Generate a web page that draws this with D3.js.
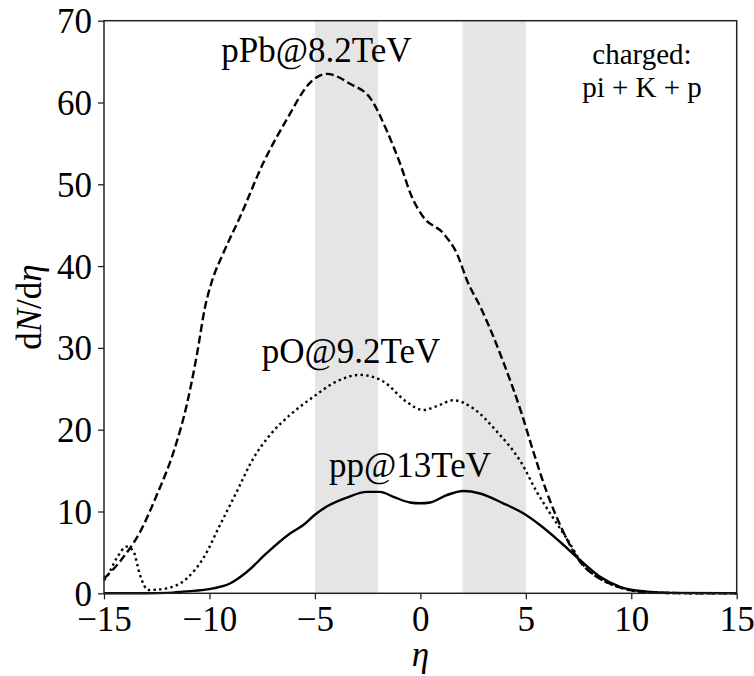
<!DOCTYPE html>
<html>
<head>
<meta charset="utf-8">
<script src="https://cdn.jsdelivr.net/npm/d3@7"></script>
<style>
html,body{margin:0;padding:0;background:#fff;}
svg text{font-family:"Liberation Serif","Times New Roman",Times,"Nimbus Roman","DejaVu Serif",serif !important;fill:#000;}
</style>
</head>
<body>
<svg id="chart" width="754" height="676"></svg>
<script>
// ---- data ----
const xTicks = [-15, -10, -5, 0, 5, 10, 15];
const yTicks = [0, 10, 20, 30, 40, 50, 60, 70];
const bands = [[-5, -2], [2, 5]];

const pPbEta = [-15,-14.24,-13.29,-12.5,-11.7,-11.08,-10.6,-10.2,-9.9,-9.34,-8.55,-7.45,-6.34,-5.2,-4.44,-3.34,-2.31,-1.6,-0.97,-0.41,0.14,1.09,1.72,2.27,2.83,3.93,4.8,5.36,5.99,6.78,7.57,8.36,9.15,9.94,11,12,13,15];
const pPbVal = [1.8,3.9,7.5,12.0,17.3,23.0,29.1,35.1,38.0,41.6,46.0,52.6,57.9,62.5,63.5,62.3,60.3,56.6,52.6,48.5,46.0,44.0,41.6,37.9,35.1,28.3,22.0,17.3,12.4,7.5,3.86,2.03,1.01,0.4,0.1,0.03,0.01,0];

const pOEta = [-15,-14.87,-14.4,-13.92,-13.6,-13.29,-12.9,-12.03,-11.08,-10.29,-9.5,-8.71,-7.92,-7.13,-6.18,-5.08,-3.97,-2.86,-1.76,-0.65,0.14,0.8,1.56,2.51,3.62,4.8,5.52,6.3,6.94,7.73,8.52,9.47,10.4,11.5,13,15];
const pOVal = [1.6,2.0,4.3,5.7,5.1,2.2,0.4,0.6,1.8,4.3,8.35,12.4,16.5,19.35,21.8,24.0,25.9,26.7,25.9,23.4,22.4,22.9,23.6,22.6,19.8,15.9,12.4,9.2,6.7,3.46,1.8,0.7,0.2,0.05,0.01,0];

const ppEta = [-15,-13,-12,-11.24,-9.82,-9.03,-8.23,-7.29,-6.18,-5.55,-5.0,-4.44,-3.49,-2.54,-1.91,-1.28,-0.49,0,0.46,1.25,2.04,2.83,3.93,4.8,5.67,6.62,7.57,8.52,9.47,10.73,11.9,15];
const ppVal = [0,0,0.05,0.2,0.6,1.2,2.6,4.9,7.3,8.35,9.6,10.6,11.7,12.4,12.4,11.8,11.1,11.0,11.1,12.0,12.5,12.2,11.0,9.9,8.35,6.3,4.07,2.03,0.8,0.2,0.05,0.02];

const series = [
  {eta: pPbEta, val: pPbVal, dash: "8,3.7", label: "pPb@8.2TeV", lx: -4.93, ly: 64.95},
  {eta: pOEta, val: pOVal, dash: "2.4,3.3", label: "pO@9.2TeV", lx: -3.29, ly: 28.15},
  {eta: ppEta, val: ppVal, dash: null, label: "pp@13TeV", lx: -0.49, ly: 14.25}
];

// ---- layout ----
const FONT = '"Liberation Serif","Times New Roman",Times,"Nimbus Roman","DejaVu Serif",serif';
const svg = d3.select("#chart");
const L = 104, R = 736.7, T = 20.7, B = 593.3;
const x = d3.scaleLinear().domain([-15, 15]).range([L, R]);
const y = d3.scaleLinear().domain([0, 70]).range([B, T]);

// bands
svg.append("g").selectAll("rect").data(bands).join("rect")
  .attr("x", d => x(d[0])).attr("width", d => x(d[1]) - x(d[0]))
  .attr("y", T).attr("height", B - T)
  .attr("fill", "#e5e5e5");

// curves
const line = d3.line().x(d => x(d[0])).y(d => y(d[1])).curve(d3.curveMonotoneX);
series.forEach(s => {
  const pts = s.eta.map((e, i) => [e, s.val[i]]);
  svg.append("path").datum(pts)
    .attr("d", line)
    .attr("fill", "none")
    .attr("stroke", "#000")
    .attr("stroke-width", 2.4)
    .attr("stroke-dasharray", s.dash);
});

// frame
svg.append("rect").attr("x", L).attr("y", T).attr("width", R - L).attr("height", B - T)
  .attr("fill", "none").attr("stroke", "#222").attr("stroke-width", 1.5);

// axes
const xAxis = d3.axisBottom(x).tickValues(xTicks).tickSize(6).tickPadding(6)
  .tickFormat(d => d < 0 ? "\u2212" + Math.abs(d) : String(d));
const gx = svg.append("g").attr("transform", `translate(0,${B})`).call(xAxis);
const yAxis = d3.axisLeft(y).tickValues(yTicks).tickSize(6).tickPadding(6);
const gy = svg.append("g").attr("transform", `translate(${L},0)`).call(yAxis);
[gx, gy].forEach(g => {
  g.attr("font-family", null).attr("font-size", null);
  g.select(".domain").remove();
  g.selectAll(".tick line").attr("stroke", "#222").attr("stroke-width", 1.3);
  g.selectAll(".tick text").style("font-family", FONT).style("font-size", "35px").attr("fill", "#000");
});
gx.selectAll(".tick text").attr("dy", "0.74em");
gy.selectAll(".tick text").attr("dy", "0.34em");

// axis labels
svg.append("text").attr("x", (L + R) / 2).attr("y", 666).attr("text-anchor", "middle")
  .style("font-family", FONT).style("font-size", "35px").style("font-style", "italic").text("η");
const yl = svg.append("text").attr("transform", `translate(41,${(T + B) / 2}) rotate(-90)`)
  .attr("text-anchor", "middle").style("font-family", FONT).style("font-size", "35px");
yl.append("tspan").text("d");
yl.append("tspan").style("font-style", "italic").text("N");
yl.append("tspan").text("/d");
yl.append("tspan").style("font-style", "italic").text("η");

// series labels
svg.append("g").selectAll("text").data(series).join("text")
  .attr("x", d => x(d.lx)).attr("y", d => y(d.ly)).attr("text-anchor", "middle")
  .style("font-family", FONT).style("font-size", "35px").text(d => d.label);

// note
svg.append("text").attr("x", 642).attr("y", 64).attr("text-anchor", "middle")
  .style("font-family", FONT).style("font-size", "29px").text("charged:");
svg.append("text").attr("x", 642).attr("y", 97).attr("text-anchor", "middle")
  .style("font-family", FONT).style("font-size", "29px").text("pi + K + p");
</script>
</body>
</html>
